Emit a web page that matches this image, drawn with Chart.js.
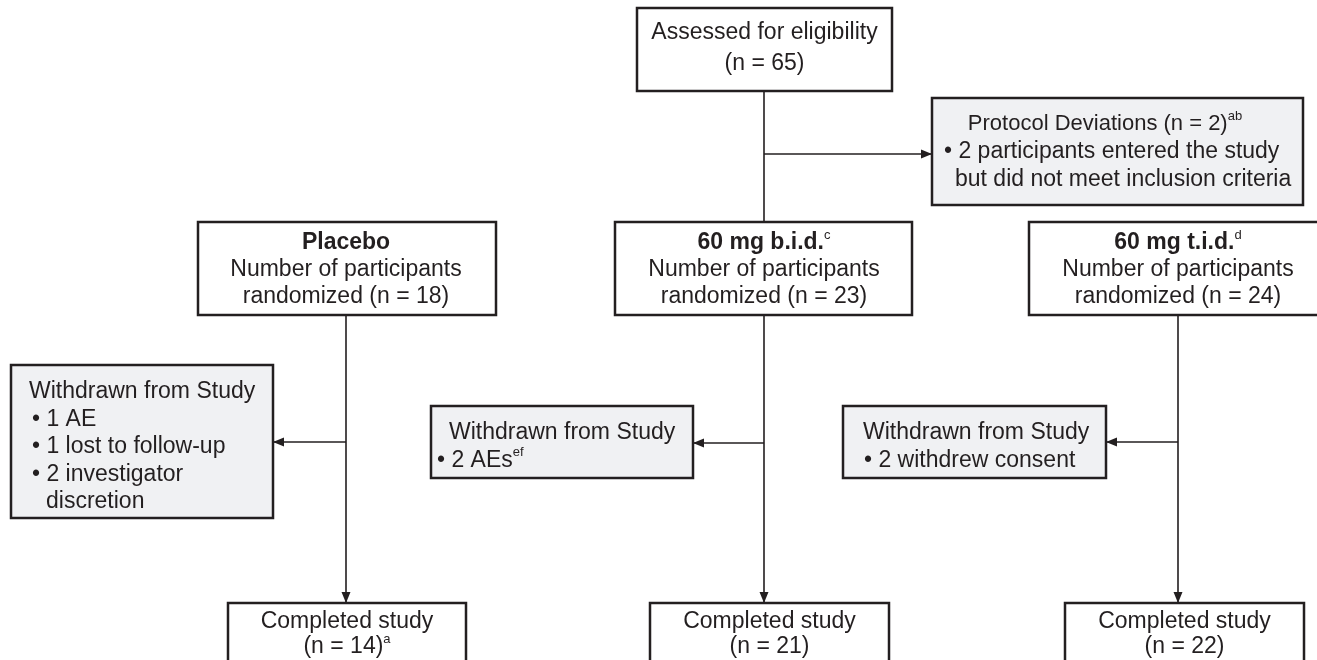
<!DOCTYPE html>
<html lang="en">
<head>
    <meta charset="UTF-8">
    <title>Participant Flow</title>
    <script src="https://cdn.jsdelivr.net/npm/chart.js"></script>
    <style>
        html, body { margin: 0; padding: 0; background: #fff; }
        .chart-box { width: 1317px; height: 660px; position: relative; }
    </style>
</head>
<body>
    <div class="chart-box">
        <canvas id="flowChart"></canvas>
    </div>

    <script>
        // study numbers
        const assessedN = 65;
        const deviationN = 2;
        const deviationNotes = 'ab';
        const deviationLines = ['2 participants entered the study', 'but did not meet inclusion criteria'];

        const armNames = ['Placebo', '60 mg b.i.d.', '60 mg t.i.d.'];
        const armNotes = ['', 'c', 'd'];
        const randomizedN = [18, 23, 24];
        const completedN = [14, 21, 22];
        const completedNotes = ['a', '', ''];

        // each reason is a list of text lines (second line = wrapped text)
        const withdrawnReasons = [
            [['1 AE'], ['1 lost to follow-up'], ['2 investigator', 'discretion']],
            [['2 AEs']],
            [['2 withdrew consent']]
        ];
        const withdrawnNotes = [[], ['ef'], []];

        // layout in chart units (x 0..1317, y 0..660 top-down)
        const topBox = { x0: 637, x1: 892, y0: 8, y1: 91 };
        const devBox = { x0: 932, x1: 1303, y0: 98, y1: 205 };
        const devArrowY = 154;
        const armBoxes = [
            { x0: 198, x1: 496 }, { x0: 615, x1: 912 }, { x0: 1029, x1: 1330 }
        ];
        const armTop = 222, armBottom = 315;
        const armLineX = [346, 764, 1178];
        const wdBoxes = [
            { x0: 11, x1: 273, y0: 365, y1: 518, title: 18, bullet: 21, first: 392 },
            { x0: 431, x1: 693, y0: 406, y1: 478, title: 18, bullet: 6, first: 433 },
            { x0: 843, x1: 1106, y0: 406, y1: 478, title: 20, bullet: 21, first: 433 }
        ];
        const wdArrowY = [442, 443, 442];
        const doneBoxes = [
            { x0: 228, x1: 466 }, { x0: 650, x1: 889 }, { x0: 1065, x1: 1304 }
        ];
        const doneTop = 603, doneBottom = 690;

        const INK = '#231f20';
        const GREY = '#f0f1f3';
        const FONT = '"Liberation Sans", Arial, Helvetica, sans-serif';
        const SIZE = 23;
        const SUP = 13;
        const LINE = 27.5;

        // connector lines go in as datasets so the scales place them
        function seg(x0, y0, x1, y1) {
            return {
                data: [{ x: x0, y: y0 }, { x: x1, y: y1 }],
                showLine: true,
                borderColor: INK,
                borderWidth: 1.6,
                pointRadius: 0,
                fill: false
            };
        }

        const connectors = [
            seg(764, topBox.y1, 764, armTop),
            seg(764, devArrowY, devBox.x0, devArrowY)
        ];
        const arrows = [{ x: devBox.x0, y: devArrowY, dir: 'right' }];
        armLineX.forEach((lx, i) => {
            connectors.push(seg(lx, armBottom, lx, doneTop));
            connectors.push(seg(lx, wdArrowY[i], wdBoxes[i].x1, wdArrowY[i]));
            arrows.push({ x: lx, y: doneTop, dir: 'down' });
            arrows.push({ x: wdBoxes[i].x1, y: wdArrowY[i], dir: 'left' });
        });

        function drawRich(ctx, parts, x, y, align, size) {
            const base = size || SIZE;
            let total = 0;
            parts.forEach(p => {
                ctx.font = (p.bold ? 'bold ' : '') + (p.sup ? SUP : base) + 'px ' + FONT;
                p.w = ctx.measureText(p.text).width;
                total += p.w;
            });
            let cx = align === 'center' ? x - total / 2 : x;
            parts.forEach(p => {
                ctx.font = (p.bold ? 'bold ' : '') + (p.sup ? SUP : base) + 'px ' + FONT;
                ctx.fillText(p.text, cx, p.sup ? y - 8 : y);
                cx += p.w;
            });
        }

        const flowPlugin = {
            id: 'flow',
            afterDatasetsDraw(chart) {
                const ctx = chart.ctx;
                const sx = chart.scales.x, sy = chart.scales.y;
                const X = v => sx.getPixelForValue(v);
                const Y = v => sy.getPixelForValue(v);

                function box(b, y0, y1, fill) {
                    ctx.save();
                    ctx.fillStyle = fill;
                    ctx.strokeStyle = INK;
                    ctx.lineWidth = 2.5;
                    ctx.fillRect(X(b.x0), Y(y0), X(b.x1) - X(b.x0), Y(y1) - Y(y0));
                    ctx.strokeRect(X(b.x0), Y(y0), X(b.x1) - X(b.x0), Y(y1) - Y(y0));
                    ctx.restore();
                }

                ctx.save();
                // arrow heads
                ctx.fillStyle = INK;
                arrows.forEach(a => {
                    const px = X(a.x), py = Y(a.y);
                    ctx.beginPath();
                    if (a.dir === 'down') {
                        ctx.moveTo(px, py); ctx.lineTo(px - 4.5, py - 11); ctx.lineTo(px + 4.5, py - 11);
                    } else if (a.dir === 'left') {
                        ctx.moveTo(px, py); ctx.lineTo(px + 11, py - 4.5); ctx.lineTo(px + 11, py + 4.5);
                    } else {
                        ctx.moveTo(px, py); ctx.lineTo(px - 11, py - 4.5); ctx.lineTo(px - 11, py + 4.5);
                    }
                    ctx.closePath();
                    ctx.fill();
                });

                // boxes
                box(topBox, topBox.y0, topBox.y1, '#fff');
                box(devBox, devBox.y0, devBox.y1, GREY);
                armBoxes.forEach(b => box(b, armTop, armBottom, '#fff'));
                wdBoxes.forEach(b => box(b, b.y0, b.y1, GREY));
                doneBoxes.forEach(b => box(b, doneTop, doneBottom, '#fff'));

                // text
                ctx.fillStyle = INK;
                ctx.textBaseline = 'middle';
                ctx.textAlign = 'left';

                const topCx = X((topBox.x0 + topBox.x1) / 2);
                drawRich(ctx, [{ text: 'Assessed for eligibility' }], topCx, Y(33), 'center');
                drawRich(ctx, [{ text: '(n = ' + assessedN + ')' }], topCx, Y(64), 'center');

                drawRich(ctx, [{ text: 'Protocol Deviations (n = ' + deviationN + ')' }, { text: deviationNotes, sup: true }],
                    X(1105), Y(124), 'center', 22);
                drawRich(ctx, [{ text: '\u2022 ' + deviationLines[0] }], X(944), Y(152), 'left');
                drawRich(ctx, [{ text: deviationLines[1] }], X(955), Y(180), 'left');

                armNames.forEach((name, i) => {
                    const cx = X(armLineX[i]);
                    drawRich(ctx, [{ text: name, bold: true }, { text: armNotes[i], sup: true }], cx, Y(243), 'center');
                    drawRich(ctx, [{ text: 'Number of participants' }], cx, Y(270), 'center');
                    drawRich(ctx, [{ text: 'randomized (n = ' + randomizedN[i] + ')' }], cx, Y(297), 'center');
                });

                wdBoxes.forEach((b, i) => {
                    drawRich(ctx, [{ text: 'Withdrawn from Study' }], X(b.x0 + b.title), Y(b.first), 'left');
                    let row = 1;
                    withdrawnReasons[i].forEach((lines, k) => {
                        lines.forEach((ln, j) => {
                            const parts = [{ text: (j === 0 ? '\u2022 ' : '') + ln }];
                            if (j === 0 && withdrawnNotes[i][k]) parts.push({ text: withdrawnNotes[i][k], sup: true });
                            const indent = b.bullet + (j === 0 ? 0 : 14);
                            drawRich(ctx, parts, X(b.x0 + indent), Y(b.first + row * LINE), 'left');
                            row++;
                        });
                    });
                });

                doneBoxes.forEach((b, i) => {
                    const cx = X((b.x0 + b.x1) / 2);
                    drawRich(ctx, [{ text: 'Completed study' }], cx, Y(622), 'center');
                    drawRich(ctx, [{ text: '(n = ' + completedN[i] + ')' }, { text: completedNotes[i], sup: true }], cx, Y(647), 'center');
                });
                ctx.restore();
            }
        };

        new Chart(document.getElementById('flowChart'), {
            type: 'scatter',
            data: { datasets: connectors },
            options: {
                responsive: true,
                maintainAspectRatio: false,
                animation: false,
                layout: { padding: 0 },
                plugins: { legend: { display: false }, tooltip: { enabled: false } },
                scales: {
                    x: { type: 'linear', min: 0, max: 1317, display: false },
                    y: { type: 'linear', min: 0, max: 660, reverse: true, display: false }
                }
            },
            plugins: [flowPlugin]
        });
    </script>
</body>
</html>
